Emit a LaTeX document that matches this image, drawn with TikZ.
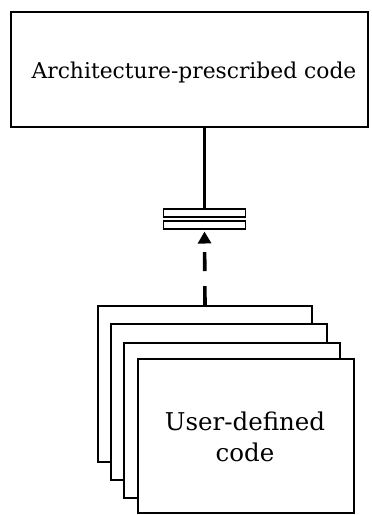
\documentclass[tikz,border=0pt]{standalone}
\usepackage{fontspec}
\setmainfont{DejaVu Serif}
\usetikzlibrary{arrows.meta}
\begin{document}
\begin{tikzpicture}[x=1pt,y=-1pt,
  box/.style={draw=black,line width=1.9pt,fill=white,inner sep=0pt},
  plate/.style={draw=black,line width=1.4pt,fill=white,inner sep=0pt,minimum width=82pt,minimum height=8pt},
  lbl/.style={align=center,inner sep=0pt}]
\useasboundingbox (0,0) rectangle (372,515);
% upper component
\node[box,minimum width=357pt,minimum height=115pt] (arch) at (189.5,69.5) {};
\node[lbl,font=\fontsize{21.8}{28}\selectfont] (archtext) at (194,72) {Architecture-prescribed code};
% stacked user components, back to front
\node[box,minimum width=214pt,minimum height=156pt] (u1) at (205,384) {};
\node[box,minimum width=216pt,minimum height=156pt] (u2) at (219,402) {};
\node[box,minimum width=216pt,minimum height=155pt] (u3) at (232,420.5) {};
\node[box,minimum width=216pt,minimum height=154pt] (u4) at (246,436) {};
\node[lbl,font=\fontsize{24.5}{31}\selectfont] (usertext) at (245,437) {User-defined\\code};
% coupling plates
\node[plate] (cup) at (204.5,212.8) {};
\node[plate] (cdn) at (204.5,224.8) {};
% connectors
\draw[line width=3.6pt] (cup.north) -- (cup.north |- arch.south);
\draw[line width=3.6pt,dash pattern=on 19pt off 15pt,dash phase=0pt,
  -{Triangle[length=12pt,width=13pt]},shorten >=2pt] (u1.north) -- (cdn.south);
\end{tikzpicture}
\end{document}
